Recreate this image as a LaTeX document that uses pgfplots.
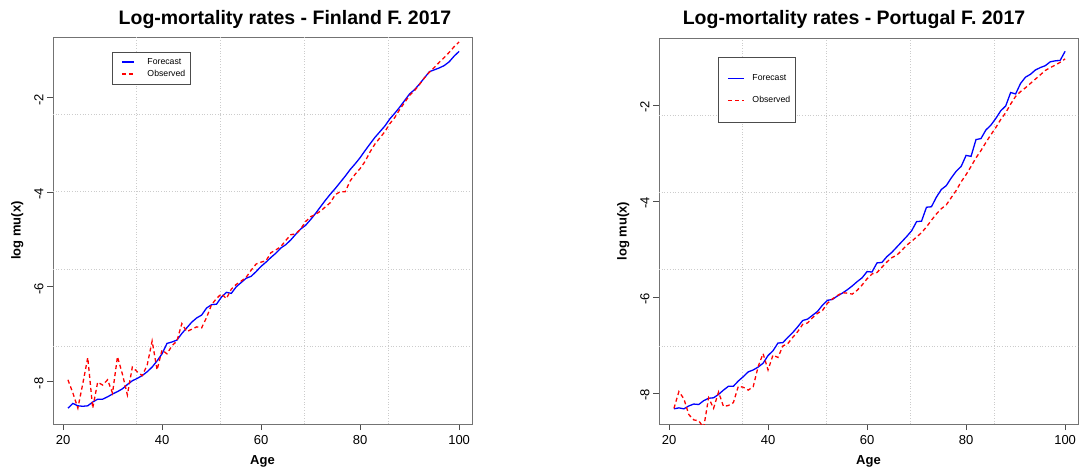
\documentclass[border=0pt]{standalone}
\usepackage{fontspec}
\setmainfont{Liberation Sans}
\usepackage{pgfplots}
\usepackage{pgfplotstable}
\pgfplotsset{compat=1.18}

\pgfplotstableread{
age fc obs
21 -8.57 -7.97
22 -8.47 -8.25
23 -8.52 -8.57
24 -8.53 -8.05
25 -8.52 -7.50
26 -8.44 -8.57
27 -8.38 -8.02
28 -8.38 -8.08
29 -8.33 -7.97
30 -8.27 -8.25
31 -8.22 -7.48
32 -8.16 -7.85
33 -8.07 -8.29
34 -7.99 -7.70
35 -7.94 -7.80
36 -7.88 -7.88
37 -7.80 -7.66
38 -7.70 -7.15
39 -7.57 -7.76
40 -7.42 -7.34
41 -7.20 -7.42
42 -7.17 -7.25
43 -7.13 -7.15
44 -6.99 -6.78
45 -6.87 -6.95
46 -6.75 -6.90
47 -6.66 -6.85
48 -6.60 -6.87
49 -6.45 -6.65
50 -6.38 -6.38
51 -6.37 -6.25
52 -6.22 -6.15
53 -6.12 -6.25
54 -6.14 -6.05
55 -6.00 -5.95
56 -5.91 -5.88
57 -5.82 -5.80
58 -5.78 -5.65
59 -5.68 -5.52
60 -5.57 -5.48
61 -5.48 -5.45
62 -5.38 -5.28
63 -5.29 -5.22
64 -5.18 -5.15
65 -5.11 -5.02
66 -5.01 -4.90
67 -4.89 -4.88
68 -4.78 -4.78
69 -4.70 -4.62
70 -4.58 -4.52
71 -4.45 -4.47
72 -4.31 -4.40
73 -4.17 -4.31
74 -4.04 -4.22
75 -3.92 -4.05
76 -3.79 -3.99
77 -3.66 -3.99
78 -3.52 -3.76
79 -3.40 -3.62
80 -3.27 -3.50
81 -3.12 -3.35
82 -2.98 -3.15
83 -2.84 -2.98
84 -2.72 -2.85
85 -2.60 -2.72
86 -2.45 -2.55
87 -2.33 -2.42
88 -2.20 -2.25
89 -2.06 -2.10
90 -1.92 -1.95
91 -1.83 -1.85
92 -1.71 -1.72
93 -1.58 -1.58
94 -1.45 -1.46
95 -1.41 -1.36
96 -1.37 -1.25
97 -1.32 -1.15
98 -1.24 -1.04
99 -1.12 -0.92
100 -1.02 -0.82
}\finland

\pgfplotstableread{
age fc obs
21 -8.33 -8.32
22 -8.31 -7.97
23 -8.33 -8.12
24 -8.27 -8.45
25 -8.23 -8.56
26 -8.24 -8.58
27 -8.16 -8.72
28 -8.11 -8.10
29 -8.10 -8.32
30 -8.03 -7.98
31 -7.94 -8.28
32 -7.86 -8.26
33 -7.86 -8.20
34 -7.75 -7.86
35 -7.66 -7.88
36 -7.56 -7.94
37 -7.52 -7.87
38 -7.46 -7.45
39 -7.38 -7.18
40 -7.22 -7.52
41 -7.12 -7.21
42 -6.96 -7.26
43 -6.95 -7.02
44 -6.84 -6.97
45 -6.74 -6.84
46 -6.62 -6.72
47 -6.49 -6.57
48 -6.46 -6.54
49 -6.38 -6.43
50 -6.30 -6.34
51 -6.17 -6.28
52 -6.07 -6.13
53 -6.05 -6.04
54 -5.98 -5.97
55 -5.92 -5.91
56 -5.85 -5.92
57 -5.77 -5.94
58 -5.68 -5.86
59 -5.60 -5.75
60 -5.47 -5.62
61 -5.48 -5.52
62 -5.29 -5.49
63 -5.28 -5.38
64 -5.16 -5.27
65 -5.07 -5.18
66 -4.96 -5.13
67 -4.85 -5.03
68 -4.74 -4.92
69 -4.62 -4.84
70 -4.43 -4.75
71 -4.42 -4.66
72 -4.13 -4.54
73 -4.12 -4.40
74 -3.92 -4.27
75 -3.76 -4.16
76 -3.68 -4.08
77 -3.52 -3.93
78 -3.38 -3.78
79 -3.28 -3.60
80 -3.05 -3.45
81 -3.07 -3.28
82 -2.72 -3.10
83 -2.70 -2.95
84 -2.52 -2.78
85 -2.42 -2.62
86 -2.28 -2.47
87 -2.12 -2.30
88 -2.02 -2.16
89 -1.74 -1.98
90 -1.77 -1.82
91 -1.55 -1.72
92 -1.42 -1.64
93 -1.36 -1.55
94 -1.27 -1.46
95 -1.22 -1.37
96 -1.18 -1.28
97 -1.10 -1.22
98 -1.08 -1.17
99 -1.07 -1.11
100 -0.88 -1.04
}\portugal

\pgfplotsset{
  rstyle/.style={
    scale only axis,
    width=419pt,
    anchor=south west,
    axis line style={black!55, line width=0.9pt},
    tick style={black!70, line width=0.8pt},
    tick align=outside,
    major tick length=6pt,
    tick pos=left,
    xmin=17.98, xmax=102.6,
    xtick={20,40,60,80,100},
    xticklabels={20,40,60,80,100},
    ytick={-8,-6,-4,-2},
    yticklabels={-8,-6,-4,-2},
    ticklabel style={font=\fontsize{13}{13}\selectfont},
    yticklabel style={rotate=90, anchor=south, xshift=-2pt},
    xticklabel style={yshift=-2pt},
    xlabel={\textbf{Age}},
    ylabel={\textbf{log mu(x)}},
    label style={font=\fontsize{13}{13}\selectfont},
    ylabel style={yshift=4pt},
    xlabel style={yshift=-4pt},
    legend cell align=left,
    clip=true,
  },
  fcst/.style={blue, line width=1.3pt},
  obsv/.style={red, line width=1.3pt, dash pattern=on 4pt off 3pt},
}

\begin{document}
\begin{tikzpicture}
\useasboundingbox (0,0) rectangle (1079pt,472pt);

\begin{axis}[rstyle,
  at={(53pt,48pt)}, height=387pt,
  ymin=-8.905, ymax=-0.716,
  legend image code/.code={\path (0pt,0pt); \draw[#1] (4pt,0pt) -- (16pt,0pt);},
  legend style={at={(rel axis cs:0.1408,0.9612)}, anchor=north west,
    draw=black!70, font=\fontsize{8.7}{9}\selectfont,
    nodes={inner sep=0pt},
    inner xsep=5pt, inner ysep=6pt, row sep=4.5pt, column sep=13pt},
]
\draw[black!20, dotted, line width=0.7pt] (rel axis cs:0.2,0) -- (rel axis cs:0.2,1)
  (rel axis cs:0.4,0) -- (rel axis cs:0.4,1)
  (rel axis cs:0.6,0) -- (rel axis cs:0.6,1)
  (rel axis cs:0.8,0) -- (rel axis cs:0.8,1)
  (rel axis cs:0,0.2) -- (rel axis cs:1,0.2)
  (rel axis cs:0,0.4) -- (rel axis cs:1,0.4)
  (rel axis cs:0,0.6) -- (rel axis cs:1,0.6)
  (rel axis cs:0,0.8) -- (rel axis cs:1,0.8);
\addplot[fcst] table[x=age, y=fc] {\finland};
\addlegendentry{Forecast}
\addplot[obsv] table[x=age, y=obs] {\finland};
\addlegendentry{Observed}
\end{axis}

\begin{axis}[rstyle,
  at={(659pt,48pt)}, height=386pt,
  ymin=-8.646, ymax=-0.604,
  legend image code/.code={\path (0pt,0pt); \draw[#1] (4pt,0pt) -- (20pt,0pt);},
  legend style={at={(rel axis cs:0.1408,0.9508)}, anchor=north west,
    draw=black!70, font=\fontsize{8.7}{9}\selectfont,
    nodes={inner sep=0pt},
    inner xsep=5pt, inner ysep=17.5pt, row sep=14.5pt, column sep=8pt},
]
\draw[black!20, dotted, line width=0.7pt] (rel axis cs:0.2,0) -- (rel axis cs:0.2,1)
  (rel axis cs:0.4,0) -- (rel axis cs:0.4,1)
  (rel axis cs:0.6,0) -- (rel axis cs:0.6,1)
  (rel axis cs:0.8,0) -- (rel axis cs:0.8,1)
  (rel axis cs:0,0.2) -- (rel axis cs:1,0.2)
  (rel axis cs:0,0.4) -- (rel axis cs:1,0.4)
  (rel axis cs:0,0.6) -- (rel axis cs:1,0.6)
  (rel axis cs:0,0.8) -- (rel axis cs:1,0.8);
\addplot[fcst] table[x=age, y=fc] {\portugal};
\addlegendentry{Forecast}
\addplot[obsv] table[x=age, y=obs] {\portugal};
\addlegendentry{Observed}
\end{axis}

\node[anchor=base, font=\fontsize{19.5}{20}\selectfont\bfseries] at (285pt,447pt) {Log-mortality rates - Finland F. 2017};
\node[anchor=base, font=\fontsize{19.5}{20}\selectfont\bfseries] at (854pt,447pt) {Log-mortality rates - Portugal F. 2017};
\end{tikzpicture}
\end{document}
